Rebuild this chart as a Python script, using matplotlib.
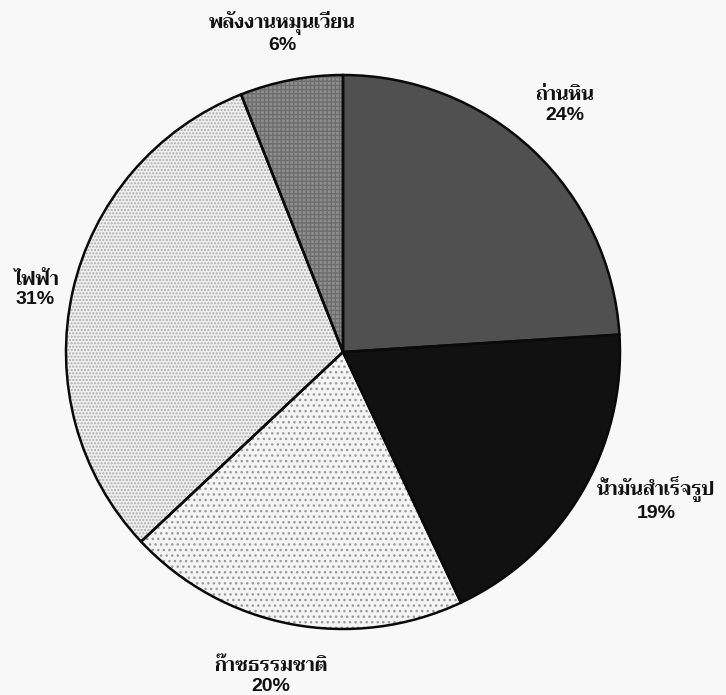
import matplotlib
matplotlib.use('Agg')
import matplotlib.pyplot as plt
from matplotlib import font_manager
from matplotlib.ft2font import FT2Font

# สัดส่วนการใช้พลังงาน เรียงตามเข็มนาฬิกาจากด้านบน
categories = ['ถ่านหิน', 'น้ำมันสำเร็จรูป', 'ก๊าซธรรมชาติ', 'ไฟฟ้า', 'พลังงานหมุนเวียน']
shares = [24, 19, 20, 31, 6]

# ลักษณะพื้นของแต่ละชิ้น
face_colors = ['#505050', '#111111', '#f4f4f4', '#efefef', '#8e8e8e']
hatches = ['', '', '...', '.....', '++++']
hatch_colors = ['#3c3c3c', '#111111', '#9a9a9a', '#ababab', '#6e6e6e']

# ตำแหน่งป้ายชื่อ (หน่วยรัศมี)
label_xy = [(0.80, 0.89), (1.13, -0.53), (-0.26, -1.17), (-1.11, 0.225), (-0.22, 1.155)]


def find_thai_font():
    # หาฟอนต์ที่มีอักษรไทย เลือกตัวหนาก่อน
    found = []
    for f in font_manager.fontManager.ttflist:
        try:
            if 0x0E01 in FT2Font(f.fname).get_charmap():
                w = f.weight if isinstance(f.weight, int) else 400
                found.append((w, f.name))
        except Exception:
            continue
    if not found:
        return None
    found.sort(reverse=True)
    return found[0][1]


thai = find_thai_font()
families = ['Liberation Sans']
if thai:
    families.append(thai)
families.append('DejaVu Sans')
plt.rcParams['font.family'] = families

fig = plt.figure(figsize=(7.26, 6.95), dpi=100, facecolor='#f8f8f8')
ax = fig.add_axes([0, 0, 1, 1])
ax.set_facecolor('#f8f8f8')

# พื้นและลาย
wedges, _ = ax.pie(shares, startangle=90, counterclock=False, radius=1.0,
                   colors=face_colors, wedgeprops=dict(linewidth=0))
for w, h, hc in zip(wedges, hatches, hatch_colors):
    w.set_hatch(h)
    w.set_edgecolor(hc)
    w.set_linewidth(0)

# เส้นขอบ
ax.pie(shares, startangle=90, counterclock=False, radius=1.0,
       colors=['none'] * len(shares),
       wedgeprops=dict(edgecolor='#0a0a0a', linewidth=1.8, fill=False))

for name, val, (x, y) in zip(categories, shares, label_xy):
    ax.text(x, y, f'{name}\n{val}%', ha='center', va='center',
            fontsize=14, fontweight='bold', linespacing=1.2, color='#111111')

ax.set_xlim(-343 / 277, 383 / 277)
ax.set_ylim(-343 / 277, 352 / 277)
ax.set_aspect('auto')
ax.axis('off')

fig.savefig('out.png', dpi=100, facecolor=fig.get_facecolor())
